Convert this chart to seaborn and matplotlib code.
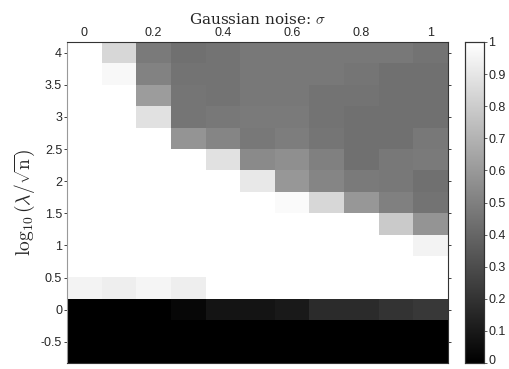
import numpy as np
import pandas as pd
import matplotlib
matplotlib.use("Agg")
import matplotlib.pyplot as plt
import matplotlib.transforms as mtransforms
import seaborn as sns

sigma = [0.0, 0.1, 0.2, 0.3, 0.4, 0.5, 0.6, 0.7, 0.8, 0.9, 1.0]
log_lambda = [4.0, 3.667, 3.333, 3.0, 2.667, 2.333, 2.0, 1.667, 1.333, 1.0, 0.667, 0.333, 0.0, -0.333, -0.667]

row_4_00 = [1.00, 0.84, 0.48, 0.44, 0.45, 0.47, 0.47, 0.47, 0.47, 0.47, 0.45]
row_3_67 = [1.00, 0.97, 0.51, 0.45, 0.45, 0.47, 0.47, 0.47, 0.46, 0.44, 0.44]
row_3_33 = [1.00, 1.00, 0.61, 0.46, 0.45, 0.47, 0.47, 0.45, 0.45, 0.44, 0.44]
row_3_00 = [1.00, 1.00, 0.88, 0.46, 0.47, 0.48, 0.48, 0.45, 0.44, 0.44, 0.44]
row_2_67 = [1.00, 1.00, 1.00, 0.58, 0.52, 0.47, 0.49, 0.46, 0.44, 0.44, 0.47]
row_2_33 = [1.00, 1.00, 1.00, 1.00, 0.88, 0.54, 0.56, 0.50, 0.44, 0.47, 0.48]
row_2_00 = [1.00, 1.00, 1.00, 1.00, 1.00, 0.91, 0.59, 0.52, 0.48, 0.47, 0.44]
row_1_67 = [1.00, 1.00, 1.00, 1.00, 1.00, 1.00, 0.98, 0.84, 0.59, 0.50, 0.45]
row_1_33 = [1.00, 1.00, 1.00, 1.00, 1.00, 1.00, 1.00, 1.00, 1.00, 0.79, 0.58]
row_1_00 = [1.00, 1.00, 1.00, 1.00, 1.00, 1.00, 1.00, 1.00, 1.00, 1.00, 0.95]
row_0_67 = [1.00, 1.00, 1.00, 1.00, 1.00, 1.00, 1.00, 1.00, 1.00, 1.00, 1.00]
row_0_33 = [0.95, 0.93, 0.96, 0.93, 1.00, 1.00, 1.00, 1.00, 1.00, 1.00, 1.00]
row_0_00 = [0.00, 0.00, 0.00, 0.03, 0.08, 0.08, 0.10, 0.17, 0.17, 0.20, 0.22]
row_m0_33 = [0.0, 0.0, 0.0, 0.0, 0.0, 0.0, 0.0, 0.0, 0.0, 0.0, 0.0]
row_m0_67 = [0.0, 0.0, 0.0, 0.0, 0.0, 0.0, 0.0, 0.0, 0.0, 0.0, 0.0]

rows = [row_4_00, row_3_67, row_3_33, row_3_00, row_2_67, row_2_33, row_2_00,
        row_1_67, row_1_33, row_1_00, row_0_67, row_0_33, row_0_00, row_m0_33, row_m0_67]

x_ticks = [0, 0.2, 0.4, 0.6, 0.8, 1]
x_ticklabels = ["0", "0.2", "0.4", "0.6", "0.8", "1"]
y_ticks = [4, 3.5, 3, 2.5, 2, 1.5, 1, 0.5, 0, -0.5]
y_ticklabels = ["4", "3.5", "3", "2.5", "2", "1.5", "1", "0.5", "0", "-0.5"]
cbar_ticks = [0, 0.1, 0.2, 0.3, 0.4, 0.5, 0.6, 0.7, 0.8, 0.9, 1]
cbar_ticklabels = ["0", "0.1", "0.2", "0.3", "0.4", "0.5", "0.6", "0.7", "0.8", "0.9", "1"]

df = pd.DataFrame(rows, index=log_lambda, columns=sigma)

sns.set_style("white")
plt.rcParams['font.family'] = ['Liberation Sans', 'DejaVu Sans']
plt.rcParams['mathtext.fontset'] = 'cm'

fig = plt.figure(figsize=(5.10, 3.69), dpi=100)
ax = fig.add_axes([67/510, 1 - 363/369, (448-67)/510, (363-42)/369])
cax = fig.add_axes([465/510, 1 - 363/369, (484-465)/510, (363-42)/369])

sns.heatmap(df, ax=ax, cmap="gray", vmin=0, vmax=1, cbar=True, cbar_ax=cax,
            xticklabels=False, yticklabels=False)

# map data values to heatmap cell coordinates
dx = sigma[1] - sigma[0]
dy = log_lambda[0] - log_lambda[1]
xpos = [(v - sigma[0]) / dx + 0.5 for v in x_ticks]
ypos = [(log_lambda[0] - v) / dy + 0.5 for v in y_ticks]

ax.set_xticks(xpos)
ax.set_xticklabels(x_ticklabels)
ax.set_yticks(ypos)
ax.set_yticklabels(y_ticklabels, rotation=0)
ax.xaxis.set_ticks_position('both')
ax.yaxis.set_ticks_position('both')
ax.xaxis.set_label_position('top')
ax.tick_params(axis='x', labeltop=True, labelbottom=False, direction='in', length=3,
               width=0.6, color='#222222', labelsize=9, pad=2)
ax.tick_params(axis='y', direction='inout', length=5, width=0.6, color='#222222',
               labelsize=9, pad=1)
for s in ax.spines.values():
    s.set_visible(True)
    s.set_color('#333333')
    s.set_linewidth(0.8)
ax.spines['left'].set_color('#999999')

ax.set_xlabel(r"Gaussian noise: $\sigma$", fontsize=11, family='serif', labelpad=2)
ax.set_ylabel(r"$\log_{10}(\lambda/\sqrt{\mathrm{n}})$", fontsize=14, labelpad=3)

cax.set_yticks(cbar_ticks)
cax.set_yticklabels(cbar_ticklabels)
cax.tick_params(direction='inout', length=4, width=0.6, labelsize=9, pad=1, right=True, left=False,
                color='#444444')
for s in cax.spines.values():
    s.set_visible(True)
    s.set_color('#333333')
    s.set_linewidth(0.8)

# nudge the bottom colorbar label so it stays inside the canvas
bottom_lbl = cax.get_yticklabels()[0]
bottom_lbl.set_transform(bottom_lbl.get_transform() +
                         mtransforms.ScaledTranslation(0, 3/100, fig.dpi_scale_trans))

fig.savefig("out.png", dpi=100)
